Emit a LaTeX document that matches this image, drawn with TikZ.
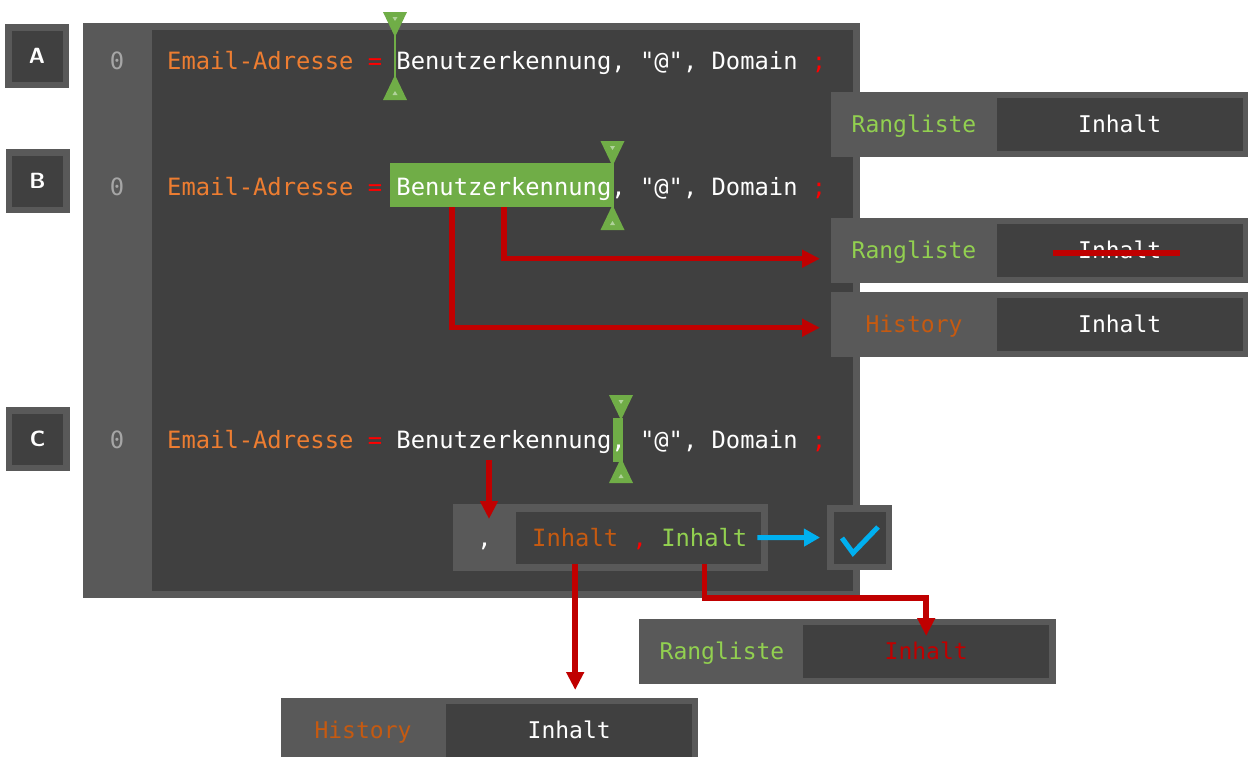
\documentclass[tikz,border=0pt]{standalone}
\usepackage{fontspec}
\setmainfont{Liberation Sans}
\setmonofont{DejaVu Sans Mono}
\usetikzlibrary{arrows.meta,positioning}

\definecolor{boxgray}{HTML}{595959}
\definecolor{boxdark}{HTML}{404040}
\definecolor{numgray}{HTML}{A6A6A6}
\definecolor{keyorange}{HTML}{ED7D31}
\definecolor{historange}{HTML}{C55A11}
\definecolor{keygreen}{HTML}{92D050}
\definecolor{selgreen}{HTML}{70AD47}
\definecolor{symred}{HTML}{FF0000}
\definecolor{arrowred}{HTML}{C00000}
\definecolor{okblue}{HTML}{00B0F0}

\begin{document}
\begin{tikzpicture}[
        % coordinate in pixel, asse y verso il basso
        x=1pt, y=-1pt,
        % Stili dei riquadri e dei testi
        labelbox/.style={fill=boxdark, draw=boxgray, line width=6.5pt, minimum size=57.5pt, inner sep=0pt, text=white, font=\sffamily\bfseries\fontsize{22}{24}\selectfont},
        pairbox/.style={fill=boxgray, minimum width=417pt, minimum height=65pt, anchor=north west, inner sep=0pt},
        valbox/.style={fill=boxdark, minimum width=246pt, minimum height=53pt, anchor=east, inner sep=0pt},
        code/.style={font=\ttfamily\fontsize{23.8}{28}\selectfont, text=white, inner sep=0pt, anchor=base west},
        boxtext/.style={font=\ttfamily\fontsize{23}{28}\selectfont, text=white, inner sep=0pt, anchor=mid, yshift=-5pt},
        selection/.style={fill=selgreen, anchor=north west, inner sep=0pt},
        redarrow/.style={draw=arrowred, line width=5.5pt, -{Triangle[length=18pt, width=17pt]}},
        bluearrow/.style={draw=okblue, line width=5pt, -{Triangle[length=16pt, width=17pt]}},
        strike/.style={draw=arrowred, line width=6pt}
    ]

    \useasboundingbox (0,0) rectangle (1248,756);
    \clip (0,0) rectangle (1248,756);
    \fill[white] (0,0) rectangle (1248,756);

    % ==============================
    % Riquadri A, B, C
    % ==============================
    \node[labelbox] (labA) at (37,56) {A};
    \node[labelbox] (labB) at (37.5,181) {B};
    \node[labelbox] (labC) at (37.5,439) {C};

    % ==============================
    % Editor con numeri di riga
    % ==============================
    \node[fill=boxdark, draw=boxgray, line width=7pt, minimum width=770pt, minimum height=568pt, inner sep=0pt] (panel) at (471.5,310.5) {};
    \fill[boxgray] (panel.north west) rectangle (152,0 |- panel.south);

    % Riga A
    \node[code, text=numgray, anchor=base] (numA) at (117,69) {0};
    \node[code] (rowA) at (167,69) {\textcolor{keyorange}{Email-Adresse} \textcolor{symred}{=} Benutzerkennung, "@", Domain \textcolor{symred}{;}};

    % Riga B (selezione)
    \node[selection, minimum width=223pt, minimum height=44pt] (selB) at (390,163) {};
    \node[code, text=numgray, anchor=base] (numB) at (117,195) {0};
    \node[code] (rowB) at (167,195) {\textcolor{keyorange}{Email-Adresse} \textcolor{symred}{=} Benutzerkennung, "@", Domain \textcolor{symred}{;}};

    % Riga C (virgola selezionata)
    \node[selection, minimum width=10pt, minimum height=44pt] (selC) at (613,418) {};
    \node[code, text=numgray, anchor=base] (numC) at (117,448) {0};
    \node[code] (rowC) at (167,448) {\textcolor{keyorange}{Email-Adresse} \textcolor{symred}{=} Benutzerkennung, "@", Domain \textcolor{symred}{;}};

    % Cursori
    \foreach \cx/\ct/\cb in {395/12/100, 612.5/141/230, 621/395/483} {
        \draw[selgreen, line width=2pt] (\cx,\ct) -- (\cx,\cb);
        \fill[selgreen] (\cx-12,\ct) -- (\cx+12,\ct) -- (\cx,\ct+25) -- cycle;
        \fill[selgreen] (\cx-12,\cb) -- (\cx+12,\cb) -- (\cx,\cb-25) -- cycle;
        \fill[selgreen!55!white] (\cx-2.5,\ct+5) -- (\cx+2.5,\ct+5) -- (\cx,\ct+9) -- cycle;
        \fill[selgreen!55!white] (\cx-2.5,\cb-5) -- (\cx+2.5,\cb-5) -- (\cx,\cb-9) -- cycle;
    }

    % ==============================
    % Tabelle a destra (A e B)
    % ==============================
    \node[pairbox] (rangA) at (831,92) {};
    \node[valbox] (rangAval) at ([xshift=-5.5pt]rangA.east) {};
    \node[boxtext, text=keygreen] (rangAkey) at ([xshift=83pt]rangA.west) {Rangliste};
    \node[boxtext] (rangAtxt) at (rangAval.center) {Inhalt};

    \node[pairbox] (rangB) at (831,218) {};
    \node[valbox] (rangBval) at ([xshift=-5.5pt]rangB.east) {};
    \node[boxtext, text=keygreen] (rangBkey) at ([xshift=83pt]rangB.west) {Rangliste};
    \node[boxtext] (rangBtxt) at (rangBval.center) {Inhalt};
    \draw[strike] ([xshift=-67pt, yshift=-3pt]rangBtxt.center) -- ([xshift=60pt, yshift=-3pt]rangBtxt.center);

    \node[pairbox] (histB) at (831,292) {};
    \node[valbox] (histBval) at ([xshift=-5.5pt]histB.east) {};
    \node[boxtext, text=historange] (histBkey) at ([xshift=83pt]histB.west) {History};
    \node[boxtext] (histBtxt) at (histBval.center) {Inhalt};

    \draw[redarrow, shorten >=11pt] ([xshift=114pt]selB.south west) |- ([yshift=-8pt]rangB.west);
    \draw[redarrow, shorten >=11pt] ([xshift=62pt]selB.south west) |- ([yshift=-3pt]histB.west);

    % ==============================
    % Riga C: sottoelenco e verifica
    % ==============================
    \node[fill=boxgray, minimum width=315pt, minimum height=67pt, anchor=north west, inner sep=0pt] (sub) at (453,504) {};
    \node[valbox, minimum width=245pt, minimum height=52pt] (subval) at ([xshift=-7pt]sub.east) {};
    \node[code, anchor=base] (subkey) at (484.5,546) {,};
    \node[code, text=historange] (subInhA) at (532,546) {Inhalt};
    \node[code, text=symred, base right=14pt of subInhA] (subComma) {,};
    \node[code, text=keygreen, base right=14pt of subComma] (subInhB) {Inhalt};

    \node[fill=boxdark, draw=boxgray, line width=6.5pt, minimum size=58.5pt, inner sep=0pt] (check) at (859.5,537.5) {};
    \draw[okblue, line width=5pt] ([shift={(-17.5,0.5)}]check.center) -- ([shift={(-6.5,15.5)}]check.center) -- ([shift={(18.5,-10.5)}]check.center);

    \node[pairbox] (rangC) at (639,619) {};
    \node[valbox] (rangCval) at ([xshift=-7pt]rangC.east) {};
    \node[boxtext, text=keygreen] (rangCkey) at ([xshift=83pt]rangC.west) {Rangliste};
    \node[boxtext, text=arrowred] (rangCtxt) at (rangCval.center) {Inhalt};

    \node[pairbox] (histC) at (281,698) {};
    \node[valbox] (histCval) at ([xshift=-6pt]histC.east) {};
    \node[boxtext, text=historange] (histCkey) at ([xshift=82pt]histC.west) {History};
    \node[boxtext] (histCtxt) at (histCval.center) {Inhalt};

    % Frecce
    \coordinate (cFrom) at (489,460);
    \coordinate (cTo) at (489,519);
    \draw[redarrow] (cFrom) -- (cTo);
    \draw[redarrow, shorten >=8pt] (subInhA.south |- subval.south) -- (subInhA.south |- histC.north);
    \draw[redarrow] (subInhB.south |- subval.south) -- (subInhB.south |- panel.south) -| ([yshift=-11pt]rangCval.north);
    \draw[bluearrow, shorten <=-4pt, shorten >=7pt] (subval.east) -- (check.west);

\end{tikzpicture}
\end{document}
